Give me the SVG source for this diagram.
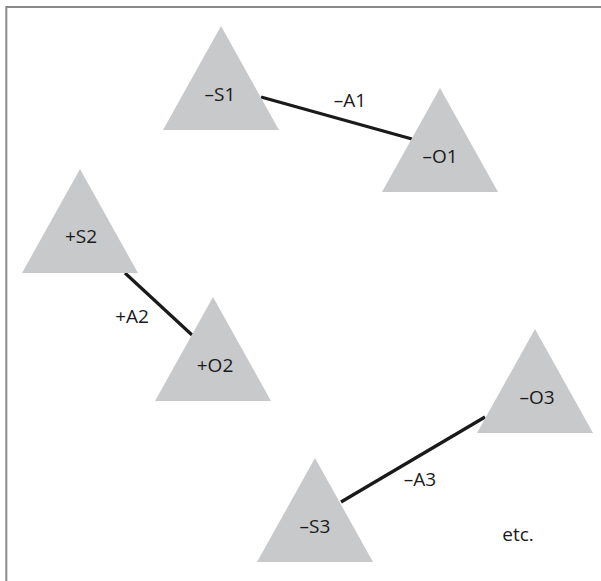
<svg xmlns="http://www.w3.org/2000/svg" width="601" height="581" viewBox="0 0 601 581">
<style>
.tri{fill:#c8c9cb;}
.lbl{font-family:"Open Sans","Liberation Sans",sans-serif;font-size:19px;fill:#1a1a1a;text-anchor:middle;}
.edge{stroke:#1a1a1a;stroke-width:3.2;fill:none;}
</style>
<rect width="601" height="581" fill="#ffffff"/>
<path d="M6.3 581 V7 H601" fill="none" stroke="#8a8a8a" stroke-width="2"/>
<g id="connectors">
<line class="edge" x1="261" y1="97" x2="412" y2="139"/>
<line class="edge" x1="125" y1="273" x2="192" y2="335"/>
<line class="edge" x1="341" y1="502" x2="485" y2="417"/>
</g>
<g id="S1"><polygon class="tri" points="221,26 279,130 163,130"/><text class="lbl" x="220" y="101">–S1</text></g>
<g id="O1"><polygon class="tri" points="440,88 498,192 382,192"/><text class="lbl" x="440" y="163">–O1</text></g>
<g id="S2"><polygon class="tri" points="80,169 138,273 22,273"/><text class="lbl" x="81" y="243">+S2</text></g>
<g id="O2"><polygon class="tri" points="213,297 271,401 155,401"/><text class="lbl" x="215" y="372">+O2</text></g>
<g id="O3"><polygon class="tri" points="535,329 593,433 477,433"/><text class="lbl" x="537" y="404">–O3</text></g>
<g id="S3"><polygon class="tri" points="315,458 373,562 257,562"/><text class="lbl" x="315" y="533">–S3</text></g>
<g id="labels">
<text class="lbl" x="350" y="107">–A1</text>
<text class="lbl" x="132" y="323">+A2</text>
<text class="lbl" x="420" y="486">–A3</text>
<text class="lbl" x="518" y="541">etc.</text>
</g>
</svg>
